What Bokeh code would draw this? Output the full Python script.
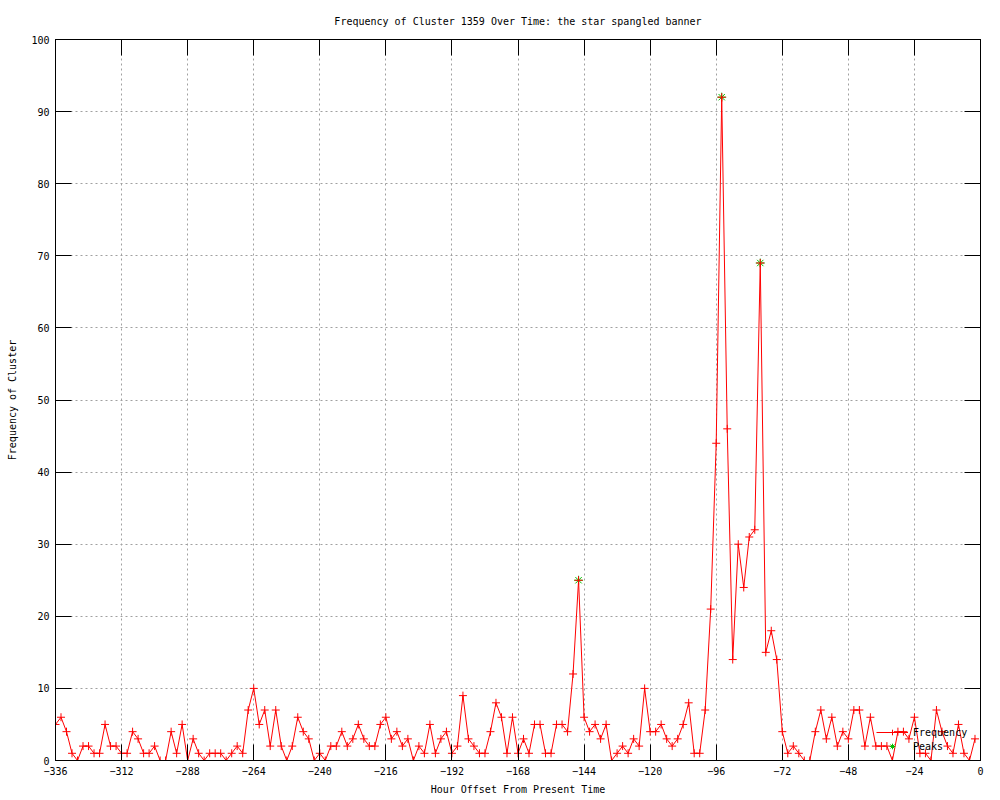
from bokeh.plotting import figure
from bokeh.models import Range1d, FixedTicker, LinearAxis, Legend, LegendItem
from bokeh.embed import file_html
from bokeh.resources import INLINE

# ---- data ----
hours = list(range(-336, 0, 2))
frequency = [
    5, 6, 4, 1, 0, 2, 2, 1, 1, 5, 2, 2,
    1, 1, 4, 3, 1, 1, 2, 0, 0, 4, 1, 5,
    0, 3, 1, 0, 1, 1, 1, 0, 1, 2, 1, 7,
    10, 5, 7, 2, 7, 2, 0, 2, 6, 4, 3, 0,
    1, 0, 2, 2, 4, 2, 3, 5, 3, 2, 2, 5,
    6, 3, 4, 2, 3, 0, 2, 1, 5, 1, 3, 4,
    1, 2, 9, 3, 2, 1, 1, 4, 8, 6, 1, 6,
    1, 3, 1, 5, 5, 1, 1, 5, 5, 4, 12, 25,
    6, 4, 5, 3, 5, 0, 1, 2, 1, 3, 2, 10,
    4, 4, 5, 3, 2, 3, 5, 8, 1, 1, 7, 21,
    44, 92, 46, 14, 30, 24, 31, 32, 69, 15, 18, 14,
    4, 1, 2, 1, 0, 0, 4, 7, 3, 6, 2, 4,
    3, 7, 7, 2, 6, 2, 2, 2, 0, 4, 4, 3,
    6, 1, 1, 0, 7, 4, 2, 1, 5, 1, 0, 3,
]
peak_hours = [-146, -94, -80]
peak_values = [25, 92, 69]
x_ticks = list(range(-336, 1, 24))
y_ticks = list(range(0, 101, 10))

FONT = "DejaVu Sans Mono"
FS = "10px"

p = figure(width=1000, height=800, output_backend="svg", toolbar_location=None,
           x_range=Range1d(-336, 0), y_range=Range1d(0, 100),
           min_border_left=55, min_border_right=20, min_border_top=39,
           min_border_bottom=40,
           title="Frequency of Cluster 1359 Over Time: the star spangled banner")

p.title.text_font = FONT
p.title.text_font_size = FS
p.title.text_font_style = "normal"
p.title.align = "center"
p.title.text_color = "black"
p.title.standoff = 26

p.outline_line_color = "black"
p.outline_line_alpha = 1.0
p.background_fill_color = "white"
p.border_fill_color = "white"

for ax, ticks in ((p.xaxis, x_ticks), (p.yaxis, y_ticks)):
    ax.ticker = FixedTicker(ticks=ticks)
    ax.major_tick_in = 16
    ax.major_tick_out = 0
    ax.minor_tick_line_color = None
    ax.axis_line_color = "black"
    ax.major_tick_line_color = "black"
    ax.major_label_text_font = FONT
    ax.major_label_text_font_size = FS
    ax.major_label_text_color = "black"
    ax.axis_label_text_font = FONT
    ax.axis_label_text_font_size = FS
    ax.axis_label_text_font_style = "normal"
    ax.axis_label_text_color = "black"

p.xaxis.axis_label = "Hour Offset From Present Time"
p.yaxis.axis_label = "Frequency of Cluster"
p.xaxis.major_label_standoff = 6
p.xaxis.axis_label_standoff = 6
p.yaxis.major_label_standoff = 6
p.yaxis.axis_label_standoff = 10

# mirrored ticks (top / right), no labels
top_axis = LinearAxis(ticker=FixedTicker(ticks=x_ticks), major_tick_in=16, major_tick_out=0,
                      minor_tick_line_color=None, axis_line_color="black",
                      major_label_text_color=None, major_label_standoff=0)
right_axis = LinearAxis(ticker=FixedTicker(ticks=y_ticks), major_tick_in=16, major_tick_out=0,
                        minor_tick_line_color=None, axis_line_color="black",
                        major_label_text_color=None, major_label_standoff=0)
p.add_layout(top_axis, "above")
p.add_layout(right_axis, "right")

p.xgrid.ticker = FixedTicker(ticks=x_ticks)
p.ygrid.ticker = FixedTicker(ticks=y_ticks)
for g in (p.xgrid, p.ygrid):
    g.grid_line_color = "#a0a0a0"
    g.grid_line_dash = "2 3"
    g.grid_line_width = 1

peak_r = p.scatter(peak_hours, peak_values, marker="asterisk", size=9,
                   line_color="#00c000", line_width=1)
line_r = p.line(hours, frequency, line_color="#ff0000", line_width=1)
pts_r = p.scatter(hours, frequency, marker="cross", size=8,
                  line_color="#ff0000", line_width=1)

legend = Legend(items=[LegendItem(label="Frequency", renderers=[line_r, pts_r]),
                       LegendItem(label="Peaks", renderers=[peak_r])],
                location=(821, 7), orientation="vertical",
                background_fill_alpha=0, border_line_alpha=0,
                padding=0, spacing=0, margin=0,
                glyph_height=14, glyph_width=32, label_height=14,
                label_standoff=5, label_text_font=FONT, label_text_font_size=FS,
                label_text_color="black")
p.add_layout(legend)

open("out.html", "w").write(file_html(p, INLINE))
